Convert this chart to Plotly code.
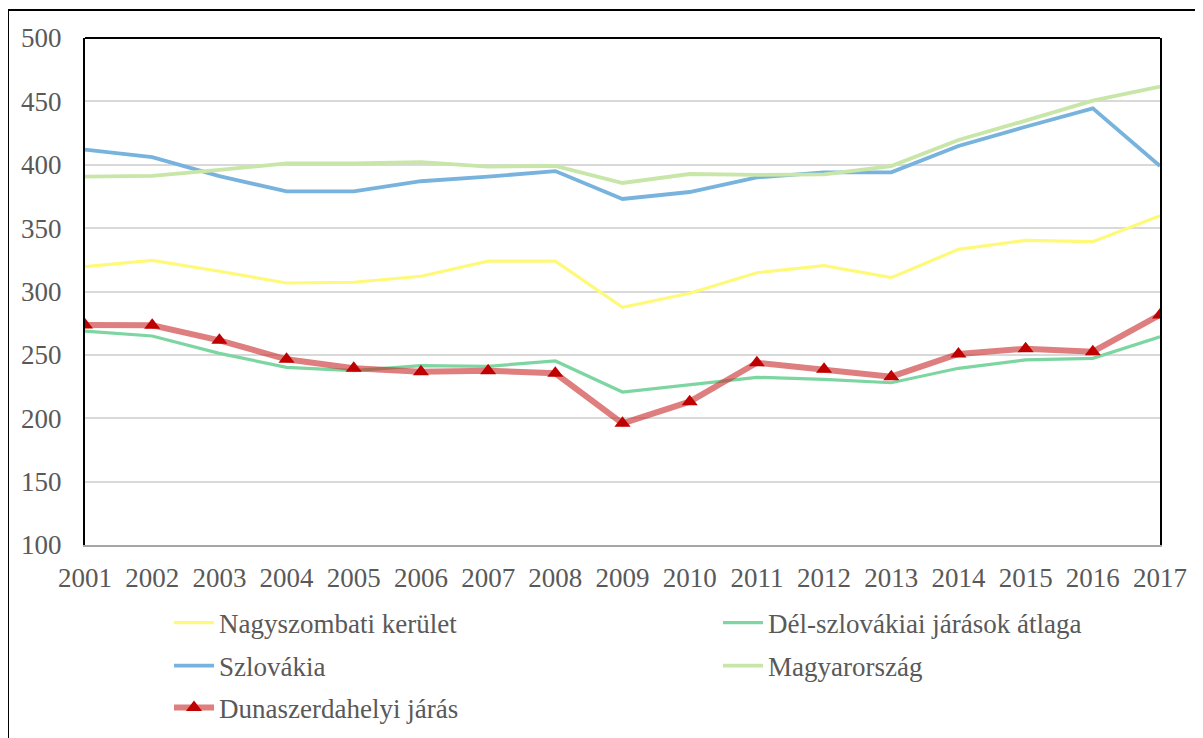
import plotly.graph_objects as go

years = list(range(2001, 2018))
nagyszombati = [319.6, 324.6, 316, 306.7, 307.3, 312, 324, 324, 287.5, 298.6, 314.8, 320.4, 310.9, 333.3, 340.4, 339.3, 359.8]
del_szlovakiai = [268.8, 264.9, 251.2, 240.2, 237.5, 241.5, 241, 245.2, 220.7, 226.2, 232.3, 230.7, 228, 239.4, 246, 247.3, 264.3]
szlovakia = [412, 406, 391, 379, 379, 387, 390.6, 395, 373, 378.5, 390, 394, 394, 414.8, 430, 444.5, 399]
magyarorszag = [390.6, 391.3, 396, 401, 401, 402, 398.5, 399, 385.6, 392.7, 392, 392.4, 399, 419.5, 434.8, 450.6, 461.6]
dunaszerdahelyi = [273.6, 273.3, 261.5, 246.5, 239.4, 236.7, 237.5, 235.5, 196, 213.1, 243.8, 238.6, 232.8, 250.7, 254.9, 252.5, 281.5]

names = ["Nagyszombati kerület", "Dél-szlovákiai járások átlaga", "Szlovákia", "Magyarország", "Dunaszerdahelyi járás"]

OFF = 8  # page body margin
W, H = 1203 - OFF, 738 - OFF
L, R, T, B = 85 - OFF, 1160 - OFF, 38 - OFF, 545 - OFF

def px(x):
    return (x - OFF - L) / (R - L)

def py(y):
    return (B - (y - OFF)) / (B - T)

FONT = "Liberation Serif"
TXT = "#595959"
FS = 27

fig = go.Figure()
specs = [
    (nagyszombati, "#fff97a", 3.2, None, "legend"),
    (del_szlovakiai, "#7dd6a2", 3.2, None, "legend2"),
    (szlovakia, "#78b3de", 3.8, None, "legend3"),
    (magyarorszag, "#c8e6a8", 3.8, None, "legend4"),
    (dunaszerdahelyi, "rgba(200,40,40,0.6)", 6, "#c00000", "legend5"),
]
for (vals, col, w, mcol, lg), nm in zip(specs, names):
    if mcol:
        fig.add_trace(go.Scatter(x=years, y=vals, name=nm, mode="lines+markers",
                                 line=dict(color=col, width=w),
                                 marker=dict(symbol="triangle-up", size=14, color=mcol),
                                 legend=lg))
    else:
        fig.add_trace(go.Scatter(x=years, y=vals, name=nm, mode="lines",
                                 line=dict(color=col, width=w), legend=lg))

leg_pos = {
    "legend": (169, 623),
    "legend2": (718, 623),
    "legend3": (169, 666),
    "legend4": (718, 666),
    "legend5": (169, 708),
}
leg_layout = {}
for k, (x, y) in leg_pos.items():
    leg_layout[k] = dict(x=px(x), y=py(y), xanchor="left", yanchor="middle",
                         bgcolor="rgba(0,0,0,0)", itemwidth=40,
                         font=dict(family=FONT, size=FS, color=TXT))

fig.update_layout(
    width=W, height=H, autosize=False,
    margin=dict(l=L, r=W - R, t=T, b=H - B, autoexpand=False),
    paper_bgcolor="white", plot_bgcolor="white",
    font=dict(family=FONT, size=FS, color=TXT),
    showlegend=True,
    xaxis=dict(range=[2001, 2017], tickmode="array", tickvals=years,
               ticktext=[str(y) for y in years], showgrid=False, zeroline=False,
               showline=True, linecolor="#a6a6a6", linewidth=2,
               ticks="outside", ticklen=8, tickcolor="rgba(0,0,0,0)",
               tickfont=dict(family=FONT, size=FS, color=TXT)),
    yaxis=dict(range=[100, 500], tickmode="array", tickvals=list(range(100, 501, 50)),
               showgrid=True, gridcolor="#d9d9d9", gridwidth=2, zeroline=False,
               showline=True, linecolor="black", linewidth=2, mirror=True,
               ticks="outside", ticklen=16, tickcolor="rgba(0,0,0,0)",
               tickfont=dict(family=FONT, size=FS, color=TXT)),
    shapes=[
        dict(type="line", xref="paper", yref="paper", x0=0, x1=1, y0=1, y1=1,
             line=dict(color="black", width=2)),
        dict(type="rect", xref="paper", yref="paper",
             x0=px(8), x1=px(1215), y0=py(750), y1=py(10),
             line=dict(color="black", width=2)),
    ],
    **leg_layout,
)

fig.write_html("out.html")
